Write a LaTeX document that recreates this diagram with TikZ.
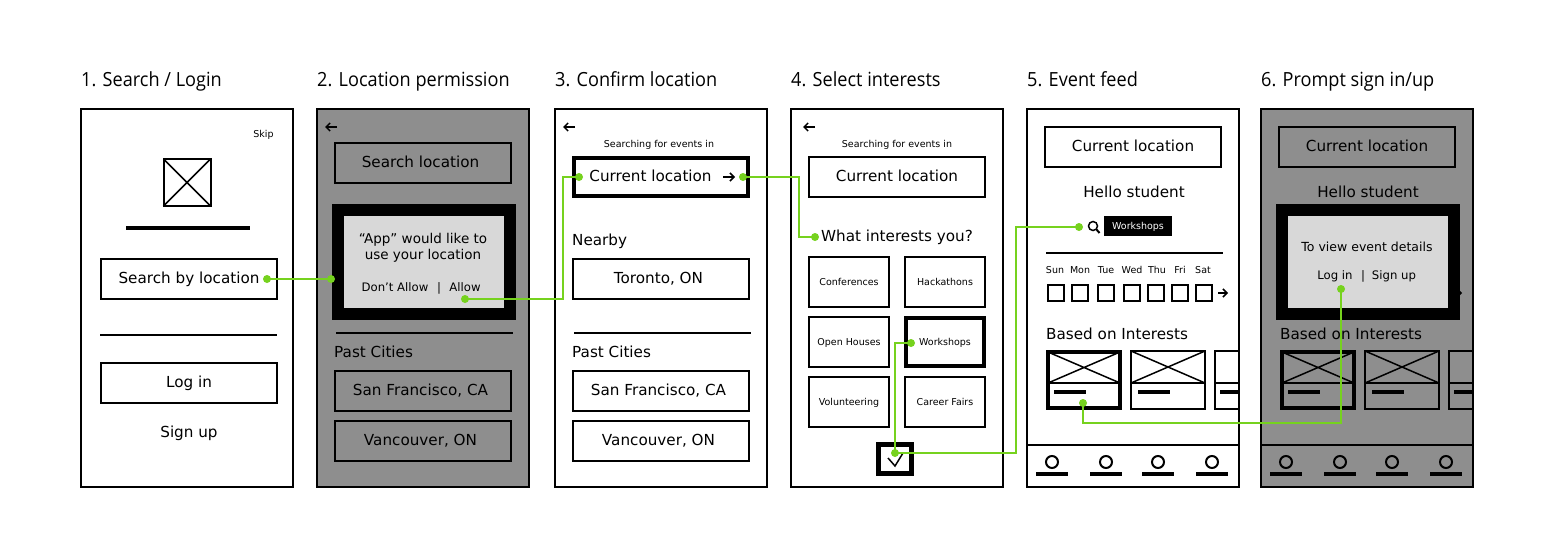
\documentclass[tikz,border=0pt]{standalone}
\usepackage{fontspec}
\setmainfont{DejaVu Sans}
\newfontfamily\headfont[FakeStretch=0.93]{Open Sans}
\usepackage{tikz}
\usetikzlibrary{positioning, arrows.meta}
\definecolor{dimgrey}{HTML}{8E8E8E}
\definecolor{dialoggrey}{HTML}{D8D8D8}
\definecolor{wiregreen}{HTML}{76D21E}
\tikzset{
  screen/.style={draw, line width=2pt, minimum width=211.5pt, minimum height=377.5pt, inner sep=0pt},
  head/.style={anchor=base west, inner sep=0pt, font=\headfont\fontsize{19.5}{22}\selectfont},
  body/.style={inner sep=0pt, text height=11.2pt, text depth=2.8pt, font=\fontsize{15.2}{18}\selectfont},
  bodyleft/.style={body, anchor=west},
  dialogtext/.style={inner sep=0pt, text height=10pt, text depth=2pt, font=\fontsize{13.5}{16}\selectfont},
  tiny/.style={inner sep=0pt, text height=8.2pt, text depth=1.8pt, font=\fontsize{9.5}{12}\selectfont},
  dialogsmall/.style={tiny, font=\fontsize{11.7}{14}\selectfont},
  fieldbox/.style={draw, line width=2pt, minimum width=176pt, minimum height=40pt, inner sep=0pt, text height=11.2pt, text depth=2.8pt, font=\fontsize{15.2}{18}\selectfont},
  leftish/.style={execute at end node={\hspace*{5pt}}},
  tilebox/.style={draw, line width=2pt, minimum width=80pt, minimum height=50pt, inner sep=0pt, text height=8.2pt, text depth=1.8pt, font=\fontsize{9.5}{12}\selectfont},
  thickbox/.style={line width=4pt},
  dialog/.style={draw=black, fill=dialoggrey, line width=12pt, minimum width=172pt, minimum height=104pt, inner sep=0pt},
  dot/.style={circle, fill=wiregreen, inner sep=0pt, minimum size=8pt},
  wire/.style={wiregreen, line width=2pt},
  daybox/.style={draw, line width=2pt, minimum size=16pt, inner sep=0pt},
  iconarrow/.style={-{Straight Barb[length=4pt, width=8pt]}, line width=1.5pt}
}

\begin{document}
\begin{tikzpicture}[x=1pt, y=-1pt]
\useasboundingbox (0, 0) rectangle (1554, 554);
% screens and their titles
\foreach \sx/\sname/\scol in {187/login/white, 423/permission/dimgrey, 661/confirm/white, 897/interests/white, 1133/feed/white, 1367/prompt/dimgrey}
  \node [screen, fill=\scol] (\sname) at (\sx, 298) {};
\node [head] (titlelogin) at (81, 86) {1. Search / Login};
\node [head] (titlepermission) at (317, 86) {2. Location permission};
\node [head] (titleconfirm) at (555, 86) {3. Confirm location};
\node [head] (titleinterests) at (791, 86) {4. Select interests};
\node [head] (titlefeed) at (1027, 86) {5. Event feed};
\node [head] (titleprompt) at (1261, 86) {6. Prompt sign in/up};

% 1
\node [tiny] (skip) at (263.5, 134) {Skip};
\draw [line width=2pt] (163.5, 159) rectangle (210.5, 206);
\draw [line width=1.5pt] (163.5, 159) -- (210.5, 206) (210.5, 159) -- (163.5, 206);
\draw [line width=4pt] (126, 228) -- (250, 228);
\node [fieldbox] (searchby) at (189, 279) {Search by location};
\draw [line width=2pt] (100, 335) -- (277, 335);
\node [fieldbox] (login) at (189, 383) {Log in};
\node [body] (signup) at (189, 433) {Sign up};

% 2
\draw [iconarrow] (337, 127) -- (325, 127);
\node [fieldbox, leftish] (searchloc) at (423, 163) {Search location};
\node [dialog] (allowbox) at (424, 262) {};
\node [dialogtext] (allowa) at (423, 239.5) {“App” would like to};
\node [dialogtext] (allowb) at (423, 255.5) {use your location};
\node [dialogsmall] (dontallow) at (395, 288) {Don't Allow};
\node [dialogsmall] (allowbar) at (439, 288) {|};
\node [dialogsmall] (allow) at (465, 288) {Allow};
\draw [line width=2pt] (336, 333) -- (513, 333);
\node [bodyleft] (pasta) at (334, 353) {Past Cities};
\node [fieldbox, leftish] (sfa) at (423, 391) {San Francisco, CA};
\node [fieldbox, leftish] (vana) at (423, 441) {Vancouver, ON};

% 3
\draw [iconarrow] (575, 127) -- (563, 127);
\node [tiny] (searchingb) at (659, 144) {Searching for events in};
\node [fieldbox, thickbox, minimum width=174pt, minimum height=38pt] (currentb) at (661, 177) {};
\node [body] (currentbtext) at (650.5, 177) {Current location};
\draw [iconarrow] (723, 177) -- (735, 177);
\node [bodyleft] (nearby) at (572, 241) {Nearby};
\node [fieldbox, leftish] (toronto) at (661, 279) {Toronto, ON};
\draw [line width=2pt] (574, 333) -- (751, 333);
\node [bodyleft] (pastb) at (572, 353) {Past Cities};
\node [fieldbox, leftish] (sfb) at (661, 391) {San Francisco, CA};
\node [fieldbox, leftish] (vanb) at (661, 441) {Vancouver, ON};

% 4
\draw [iconarrow] (815, 127) -- (803, 127);
\node [tiny] (searchingc) at (897, 144) {Searching for events in};
\node [fieldbox] (currentc) at (897, 177) {Current location};
\node [body] (whatint) at (897, 237) {What interests you?};
\node [tilebox] (conf) at (849, 282) {Conferences};
\node [tilebox] (hack) at (945, 282) {Hackathons};
\node [tilebox] (open) at (849, 342) {Open Houses};
\node [tilebox, thickbox, minimum width=78pt, minimum height=48pt] (shops) at (945, 342) {Workshops};
\node [tilebox] (vol) at (849, 402) {Volunteering};
\node [tilebox] (fairs) at (945, 402) {Career Fairs};
\node [draw, line width=5pt, minimum width=33pt, minimum height=29pt, inner sep=0pt] (okbox) at (895, 459) {};
\draw [line width=1.5pt] (888, 458) -- (895, 466) -- (903, 453);

% 5 and 6 share a feed
\foreach \dx/\tag in {0/feed, 234/prompt} {
  \begin{scope}[xshift=\dx pt]
  \node [fieldbox] (\tag current) at (1133, 147) {Current location};
  \node [body] (\tag hello) at (1134, 193) {Hello student};
  \draw [iconarrow] (1218, 293) -- (1228, 293);
  \node [bodyleft] (\tag based) at (1046, 335) {Based on Interests};
  % cards
  \draw [line width=1.5pt] (1048, 352) -- (1120, 383) (1120, 352) -- (1048, 383);
  \draw [line width=2pt] (1048, 383) -- (1120, 383);
  \draw [line width=4pt] (1048, 352) rectangle (1120, 408);
  \draw [line width=4pt] (1054, 392) -- (1086, 392);
  \draw [line width=1.5pt] (1131, 351) -- (1205, 383) (1205, 351) -- (1131, 383);
  \draw [line width=2pt] (1131, 351) rectangle (1205, 409);
  \draw [line width=2pt] (1131, 383) -- (1205, 383);
  \draw [line width=4pt] (1138, 392) -- (1170, 392);
  \draw [line width=2pt] (1239, 351) -- (1215, 351) -- (1215, 409) -- (1239, 409);
  \draw [line width=2pt] (1215, 383) -- (1239, 383);
  \draw [line width=4pt] (1220, 392) -- (1239, 392);
  % nav bar
  \draw [line width=2pt] (1027, 445) -- (1239, 445);
  \foreach \nx in {1052, 1106, 1158, 1212} {
    \draw [line width=2pt] (\nx, 462) circle (6);
    \draw [line width=4pt] (\nx-16, 474) -- (\nx+16, 474);
  }
  \end{scope}
}

% 5
\draw [line width=1.5pt] (1093, 226) circle (4.5);
\draw [line width=2pt] (1096.5, 229.5) -- (1099.5, 233);
\node [fill=black, text=white, tiny, minimum width=68pt, minimum height=20pt] (keyword) at (1138, 226) {Workshops};
\draw [line width=2pt] (1046, 253) -- (1223, 253);
\foreach \cx/\dname in {1055/Sun, 1080/Mon, 1106/Tue, 1132/Wed, 1157/Thu, 1180/Fri, 1203/Sat}
  \node [tiny] (day\dname) at (\cx, 270) {\dname};
\foreach \cx/\dname in {1055.5/Sun, 1079.5/Mon, 1105.5/Tue, 1131.5/Wed, 1155.5/Thu, 1179.5/Fri, 1203.5/Sat}
  \node [daybox] (box\dname) at (\cx, 293) {};

% 6
\node [dialog] (logbox) at (1368, 262) {};
\node [dialogtext, font=\fontsize{12.5}{16}\selectfont] (viewa) at (1367, 247.5) {To view event details};
\node [dialogsmall] (logina) at (1335, 276) {Log in};
\node [dialogsmall] (loginbar) at (1363, 276) {|};
\node [dialogsmall] (signupa) at (1394, 276) {Sign up};

% flow
\node [dot] (s1) at (267, 279) {};
\node [dot] (s2) at (331, 279) {};
\node [dot] (s3) at (465, 299) {};
\node [dot] (s4) at (579, 177) {};
\node [dot] (s5) at (743, 177) {};
\node [dot] (s6) at (815, 237) {};
\node [dot] (s7) at (911, 343) {};
\node [dot] (s8) at (895, 453) {};
\node [dot] (s9) at (1079, 227) {};
\node [dot] (s10) at (1083, 403) {};
\node [dot] (s11) at (1341, 289) {};
\coordinate (b3) at (563, 299);
\coordinate (b5) at (799, 177);
\coordinate (b8) at (1016, 453);
\coordinate (b10) at (1083, 423);
\draw [wire] (s1.center) -- (s2.center);
\draw [wire] (s3.center) -- (b3) |- (s4.center);
\draw [wire] (s5.center) -- (b5) |- (s6.center);
\draw [wire] (s7.center) -| (s8.center);
\draw [wire] (s8.center) -- (b8) |- (s9.center);
\draw [wire] (s10.center) -- (b10) -| (s11.center);
\end{tikzpicture}
\end{document}
